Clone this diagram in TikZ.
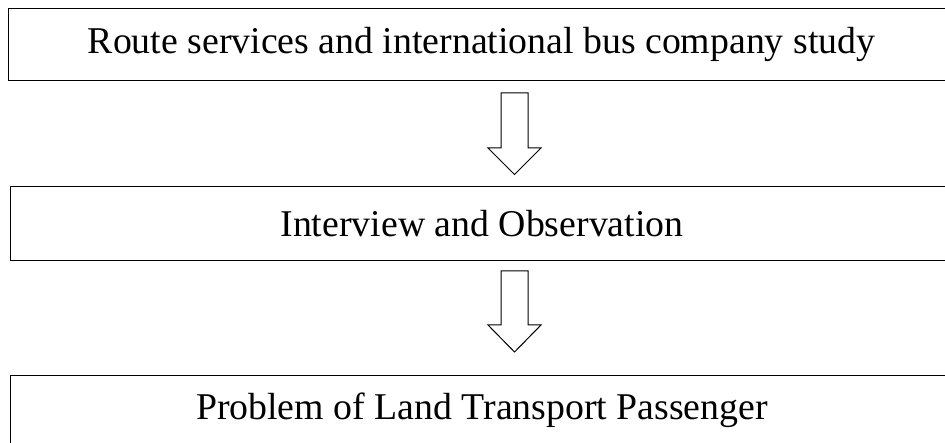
\documentclass[tikz,border=0pt]{standalone}
\usepackage{fontspec}
\setmainfont{Liberation Serif}
\begin{document}
\begin{tikzpicture}[x=1pt,y=-1pt,
  stagebox/.style={draw=black,line width=1pt,inner sep=0pt,anchor=north west},
  label/.style={font=\fontsize{37.8}{45}\selectfont,inner sep=0pt},
  blockarrow/.style={draw=black,line width=1pt,fill=white,line join=miter}]
\useasboundingbox (0,0) rectangle (945,443);
\clip (0,0) rectangle (945,443);
% boxes
\node[stagebox,minimum width=946pt,minimum height=72pt] (b1) at (8,8) {};
\node[stagebox,minimum width=944pt,minimum height=74pt] (b2) at (10,186) {};
\node[stagebox,minimum width=944pt,minimum height=74pt] (b3) at (10,375) {};
% texts
\node[label] (t1) at (481.5,44) {Route services and international bus company study};
\node[label] (t2) at (482,223.5) {Interview and Observation};
\node[label] (t3) at (482,410) {Problem of Land Transport Passenger};
% block arrows
\coordinate (a1) at (514.5,93);
\draw[blockarrow] (a1) ++(-13.5,0) -- ++(0,55) -- ++(-13,0) -- (514.5,174.5) -- (541,148) -- ++(-13,0) -- ++(0,-55) -- cycle;
\coordinate (a2) at (514.5,271);
\draw[blockarrow] (a2) ++(-13.5,0) -- ++(0,54) -- ++(-13,0) -- (514.5,352) -- (541,325) -- ++(-13,0) -- ++(0,-54) -- cycle;
\end{tikzpicture}
\end{document}
